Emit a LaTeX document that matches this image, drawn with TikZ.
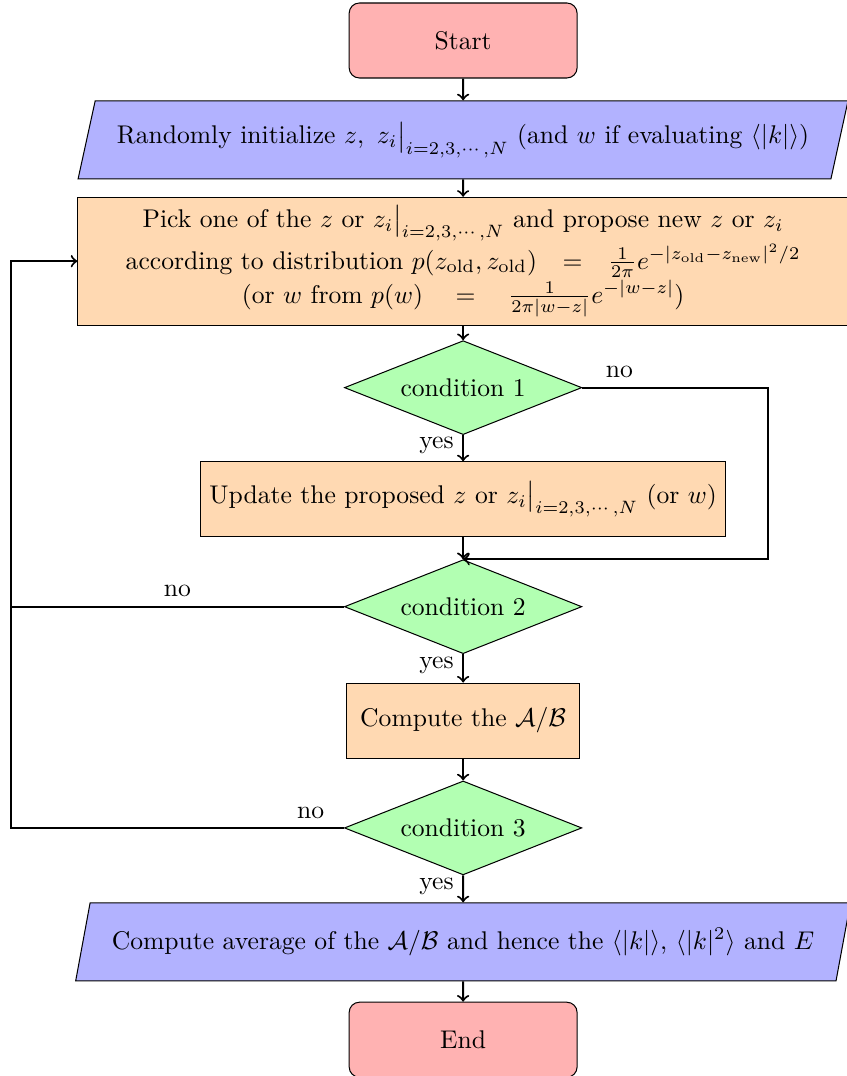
\documentclass[tikz,border=0pt]{standalone}
\usepackage{amsmath}
\usepackage{amssymb}
\usetikzlibrary{shapes.geometric,positioning}

\begin{document}
\begin{tikzpicture}[node distance=0.3cm,
   terminal/.style={rectangle,rounded corners,draw,fill=red!30,minimum width=3.13cm,minimum height=1.03cm},
   io/.style={trapezium,trapezium left angle=72,trapezium right angle=108,trapezium stretches=true,draw,fill=blue!30,inner xsep=8.5pt,minimum height=1.07cm},
   process/.style={rectangle,draw,fill=orange!30,minimum height=1.03cm},
   decision/.style={diamond,draw,fill=green!30,aspect=2.5,minimum width=3.26cm,minimum height=1.29cm,inner sep=1pt},
   flow/.style={->,thick}]
   \useasboundingbox (-6.36,0.556) rectangle (5.26,-14.22);
   \node[terminal] (start) {Start};
   \node[io] (init) [below=of start] {Randomly initialize $z,\ z_i\big|_{i=2,3,\cdots,N}$ (and $w$ if evaluating $\langle|k|\rangle$)};
   \node[process,minimum width=10.58cm,minimum height=1.73cm,align=center] (propose) [below=0.24cm of init]
      {Pick one of the $z$ or $z_i\big|_{i=2,3,\cdots,N}$ and propose new $z$ or $z_i$\\
       according to distribution $p(z_{\mathrm{old}},z_{\mathrm{old}})\;\;\,=\;\;\,\frac{1}{2\pi}e^{-|z_{\mathrm{old}}-z_{\mathrm{new}}|^2/2}$\\
       (or $w$ from $p(w)\quad=\quad\frac{1}{2\pi|w-z|}e^{-|w-z|}$)};
   \node[decision] (cond1) [below=0.2cm of propose] {condition 1};
   \node[process] (update) [below=0.36cm of cond1] {Update the proposed $z$ or $z_i\big|_{i=2,3,\cdots,N}$ (or $w$)};
   \node[decision] (cond2) [below=0.3cm of update] {condition 2};
   \node[process,minimum width=3.19cm] (ratio) [below=0.39cm of cond2] {Compute the $\mathcal{A}/\mathcal{B}$};
   \node[decision] (cond3) [below=0.3cm of ratio] {condition 3};
   \node[io] (average) [below=0.37cm of cond3] {Compute average of the $\mathcal{A}/\mathcal{B}$ and hence the $\langle|k|\rangle$, $\langle|k|^2\rangle$ and $E$};
   \node[terminal] (stop) [below=0.28cm of average] {End};
   \coordinate (left) at (-6.21,0);
   \coordinate (right) at (4.18,0);
    \path[flow]
    (start) edge (init)
    (init) edge (propose)
    (propose) edge (cond1)
    (cond1) edge node[left,pos=0.4] {yes} (update)
    (update) edge (cond2)
    (cond2) edge node[left,pos=0.4] {yes} (ratio)
    (ratio) edge (cond3)
    (cond3) edge node[left,pos=0.4] {yes} (average)
    (average) edge (stop);
   \draw[flow] (cond1.east) -- node[above,pos=0.2] {no} (cond1.east -| right) |- (cond2.north);
   \draw[flow] (cond2.west) -- node[above,pos=0.5] {no} (cond2.west -| left) |- (propose.west);
   \draw[thick] (cond3.west) -- node[above,pos=0.1] {no} (cond3.west -| left) -- (cond2.west -| left);
\end{tikzpicture}
\end{document}
